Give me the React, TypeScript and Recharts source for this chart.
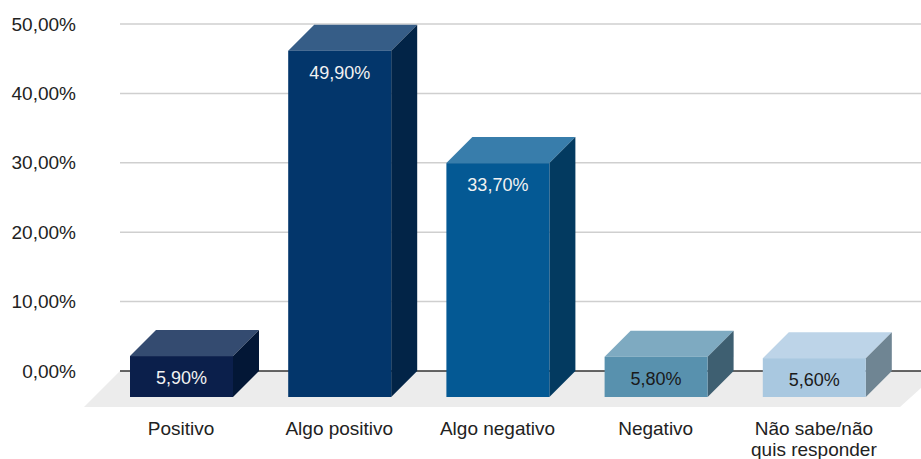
import React from "react";
import { BarChart, Bar, XAxis, YAxis, CartesianGrid, LabelList, Cell } from "recharts";

const categories = ["Positivo", "Algo positivo", "Algo negativo", "Negativo", "Não sabe/não quis responder"];
const shares = [5.9, 49.9, 33.7, 5.8, 5.6];
const yTicks = [0, 10, 20, 30, 40, 50];

// front / top / side shades for each box
const frontColors = ["#0b1f4b", "#03366b", "#045994", "#5891ae", "#a9c8e0"];
const topColors = ["#344b70", "#365d87", "#387dab", "#7eaac1", "#bdd4e8"];
const sideColors = ["#031736", "#022447", "#033a60", "#3e5f71", "#6f8593"];
const labelColors = ["#f2f2f2", "#f2f2f2", "#f2f2f2", "#1a1a1a", "#1a1a1a"];

const data = categories.map((name, i) => ({ name, value: shares[i] }));

const DEPTH = 26;
const FONT = "'Liberation Sans', Arial, sans-serif";

const pct = (v: number) => `${v.toFixed(2).replace(".", ",")}%`;

const Box = (props: any) => {
  const { x, y, width, height, index } = props;
  const fx = x - DEPTH;
  const fy = y + DEPTH;
  const top = `${fx},${fy} ${fx + width},${fy} ${x + width},${y} ${x},${y}`;
  const side = `${fx + width},${fy} ${x + width},${y} ${x + width},${y + height} ${fx + width},${fy + height}`;
  return (
    <g>
      <polygon points={top} fill={topColors[index]} />
      <polygon points={side} fill={sideColors[index]} />
      <rect x={fx} y={fy} width={width} height={height} fill={frontColors[index]} />
    </g>
  );
};

const BoxLabel = (props: any) => {
  const { x, y, width, value, index } = props;
  return (
    <text
      x={x - DEPTH + width / 2}
      y={y + DEPTH + 22}
      textAnchor="middle"
      dominantBaseline="central"
      fontFamily={FONT}
      fontSize={18}
      fill={labelColors[index]}
    >
      {pct(value)}
    </text>
  );
};

// grid line; the one on the floor (bottom of the plot) is drawn dark
const GridLine = (props: any) => {
  const { x1, y1, x2, y2, y, height } = props;
  const isBase = Math.abs(y1 - (y + height)) < 1;
  return <line x1={x1} y1={y1} x2={x2} y2={y2} stroke={isBase ? "#333" : "#cfcfcf"} strokeWidth={1.5} />;
};

const wrap = (text: string, max: number) => {
  const lines: string[] = [];
  let cur = "";
  text.split(" ").forEach((w) => {
    const next = cur ? `${cur} ${w}` : w;
    if (next.length > max && cur) {
      lines.push(cur);
      cur = w;
    } else {
      cur = next;
    }
  });
  if (cur) lines.push(cur);
  return lines;
};

const CategoryTick = ({ x, payload }: any) => {
  const lines = wrap(payload.value, 14);
  return (
    <text x={x - DEPTH} y={435} textAnchor="middle" fontFamily={FONT} fontSize={19} fill="#222">
      {lines.map((l, i) => (
        <tspan key={i} x={x - DEPTH} dy={i === 0 ? 0 : 21}>
          {l}
        </tspan>
      ))}
    </text>
  );
};

const ValueTick = ({ y, payload }: any) => (
  <text x={76} y={y} textAnchor="end" dominantBaseline="central" fontFamily={FONT} fontSize={19} fill="#222">
    {pct(payload.value)}
  </text>
);

export default function App() {
  return (
    <div style={{ position: "absolute", left: 0, top: 0, width: 921, height: 459, background: "#fff" }}>
      {/* floor behind the boxes */}
      <svg width={921} height={459} style={{ position: "absolute", left: 0, top: 0 }}>
        <polygon points="120,371 940,371 900,407 84,407" fill="#ececec" />
      </svg>
      <div style={{ position: "absolute", left: 0, top: 0 }}>
        <BarChart width={921} height={459} data={data} margin={{ top: 24, right: 0, bottom: 0, left: 0 }} barSize={103}>
          <CartesianGrid vertical={false} horizontal={(p: any) => <GridLine {...p} />} />
          <XAxis
            dataKey="name"
            height={88}
            axisLine={false}
            tickLine={false}
            interval={0}
            padding={{ left: 8, right: 2 }}
            tick={<CategoryTick />}
          />
          <YAxis width={120} domain={[0, 50]} ticks={yTicks} axisLine={false} tickLine={false} tick={<ValueTick />} />
          <Bar dataKey="value" shape={<Box />} isAnimationActive={false}>
            {data.map((d) => (
              <Cell key={d.name} />
            ))}
            <LabelList dataKey="value" content={<BoxLabel />} />
          </Bar>
        </BarChart>
      </div>
    </div>
  );
}
